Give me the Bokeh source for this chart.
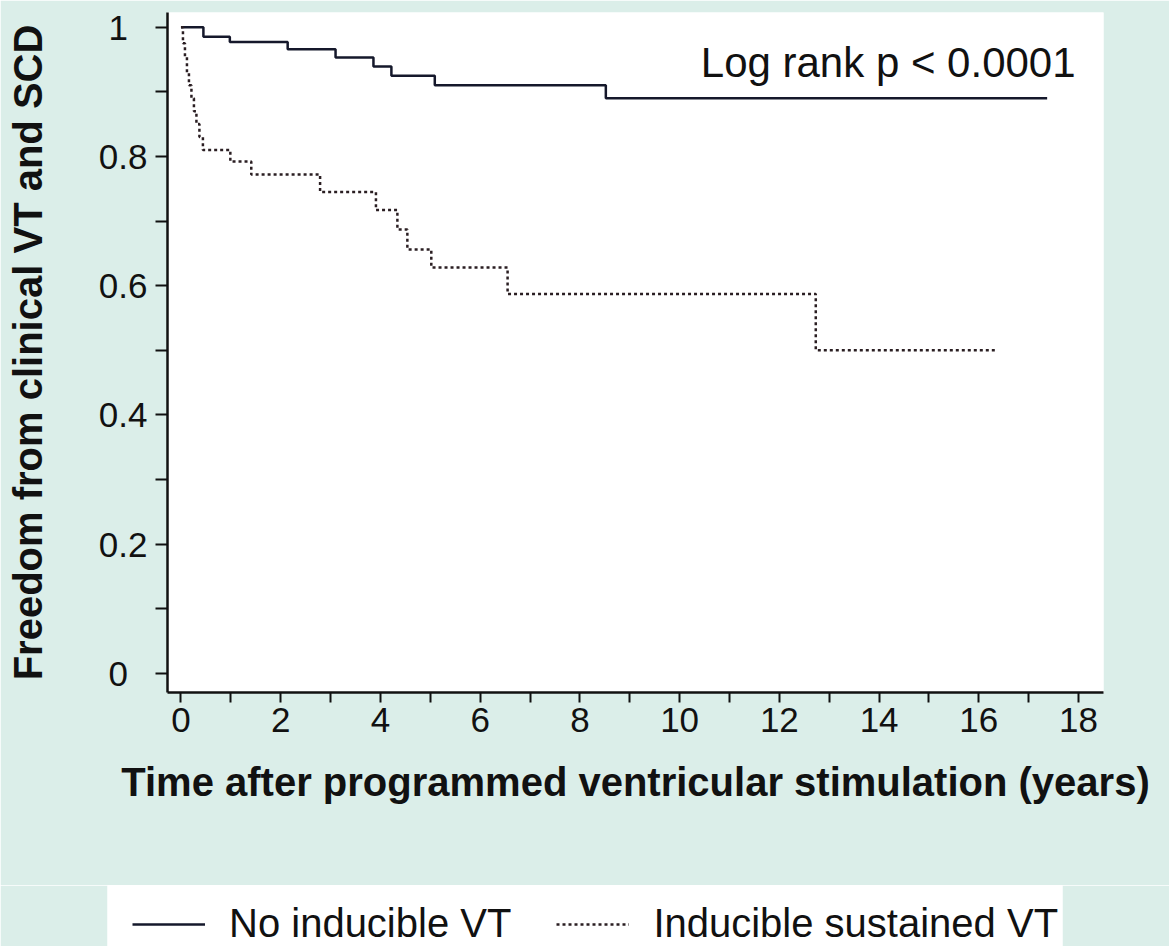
from bokeh.plotting import figure
from bokeh.layouts import column, row
from bokeh.models import Range1d, FixedTicker, Label, Legend, LegendItem
from bokeh.embed import file_html
from bokeh.resources import INLINE

# Kaplan-Meier estimates (years, survival fraction)
t_no_inducible = [0.0, 0.45, 0.98, 2.14, 3.10, 3.86, 4.22, 5.09, 8.52, 17.37]
s_no_inducible = [1.0, 0.985, 0.977, 0.966, 0.953, 0.939, 0.925, 0.910, 0.890, 0.890]

t_inducible = [0.0, 0.04, 0.08, 0.12, 0.16, 0.21, 0.26, 0.31, 0.37, 0.44,
               0.99, 1.41, 2.79, 3.91, 4.34, 4.54, 5.02, 6.55, 12.73, 16.34]
s_inducible = [1.0, 0.975, 0.955, 0.93, 0.91, 0.89, 0.87, 0.85, 0.83, 0.81,
               0.792, 0.772, 0.745, 0.717, 0.687, 0.656, 0.628, 0.587, 0.50, 0.50]

x_major = [0, 2, 4, 6, 8, 10, 12, 14, 16, 18]
x_minor = [1, 3, 5, 7, 9, 11, 13, 15, 17]
y_major = [0, 0.2, 0.4, 0.6, 0.8, 1.0]
y_minor = [0.1, 0.3, 0.5, 0.7, 0.9]
y_labels = ["0\u00a0\u00a0", "0.2", "0.4", "0.6", "0.8", "1\u00a0\u00a0"]

series_labels = ["No inducible VT", "Inducible sustained VT"]
annotation_text = "Log rank p < 0.0001"

FONT = "Liberation Sans"
INK = "#111111"
BG = "#dbeee9"
SOLID = dict(line_color="#15182b", line_width=2.5)
DOTTED = dict(line_color="#2a1e22", line_width=2.5, line_dash="3 3")

p = figure(width=1169, height=885,
           x_range=Range1d(-0.27, 18.5), y_range=Range1d(-0.0294, 1.0227),
           output_backend="svg", toolbar_location=None,
           min_border_left=167, min_border_right=66, min_border_top=12, min_border_bottom=193)

p.background_fill_color = "white"
p.border_fill_color = BG
p.outline_line_color = None
p.xgrid.visible = False
p.ygrid.visible = False

p.step(t_no_inducible, s_no_inducible, mode="after", **SOLID)
p.step(t_inducible, s_inducible, mode="after", **DOTTED)

# axes
p.xaxis.ticker = FixedTicker(ticks=x_major, minor_ticks=x_minor)
p.yaxis.ticker = FixedTicker(ticks=y_major, minor_ticks=y_minor)
p.yaxis.major_label_overrides = {v: s for v, s in zip(y_major, y_labels)}

for ax in (p.xaxis[0], p.yaxis[0]):
    ax.axis_line_color = INK
    ax.axis_line_width = 2.5
    ax.major_tick_line_color = INK
    ax.minor_tick_line_color = INK
    ax.major_tick_line_width = 2
    ax.minor_tick_line_width = 2
    ax.major_tick_in = 0
    ax.minor_tick_in = 0
    ax.major_label_text_font = FONT
    ax.major_label_text_font_size = "35px"
    ax.major_label_text_color = INK
    ax.axis_label_text_font = FONT
    ax.axis_label_text_font_style = "bold"
    ax.axis_label_text_font_size = "40px"
    ax.axis_label_text_color = INK

p.xaxis.major_tick_out = 10
p.xaxis.minor_tick_out = 10
p.xaxis.major_label_standoff = 5
p.xaxis.axis_label = "Time after programmed ventricular stimulation (years)"
p.xaxis.axis_label_standoff = 25

p.yaxis.major_tick_out = 12
p.yaxis.minor_tick_out = 12
p.yaxis.major_label_standoff = 8
p.yaxis.axis_label = "Freedom from clinical VT and SCD"
p.yaxis.axis_label_standoff = 46

p.add_layout(Label(x=17.94, y=0.946, text=annotation_text, text_align="right",
                   text_baseline="alphabetic", text_font=FONT, text_font_size="42px",
                   text_color=INK))

# legend strip below the chart (its key renderers reuse the series, kept out of view)
lf = figure(width=1169, height=61, x_range=Range1d(1000, 1001), y_range=Range1d(1000, 1001),
            x_axis_type=None, y_axis_type=None, output_backend="svg", toolbar_location=None,
            min_border_left=107, min_border_right=107, min_border_top=0, min_border_bottom=0)
lf.background_fill_color = "white"
lf.border_fill_color = BG
lf.outline_line_color = None
k1 = lf.line(t_no_inducible, s_no_inducible, **SOLID)
k2 = lf.line(t_inducible, s_inducible, **DOTTED)

legend = Legend(items=[LegendItem(label=series_labels[0], renderers=[k1]),
                       LegendItem(label=series_labels[1], renderers=[k2])],
                orientation="horizontal", location=(25, 0),
                background_fill_alpha=0.0, border_line_color=None,
                label_text_font=FONT, label_text_font_size="40px", label_text_color=INK,
                glyph_width=73, glyph_height=20, label_standoff=24,
                spacing=45, padding=0, margin=0)
lf.add_layout(legend)

layout = column(row(p), row(lf), spacing=0)
open("out.html", "w").write(file_html(layout, INLINE))
